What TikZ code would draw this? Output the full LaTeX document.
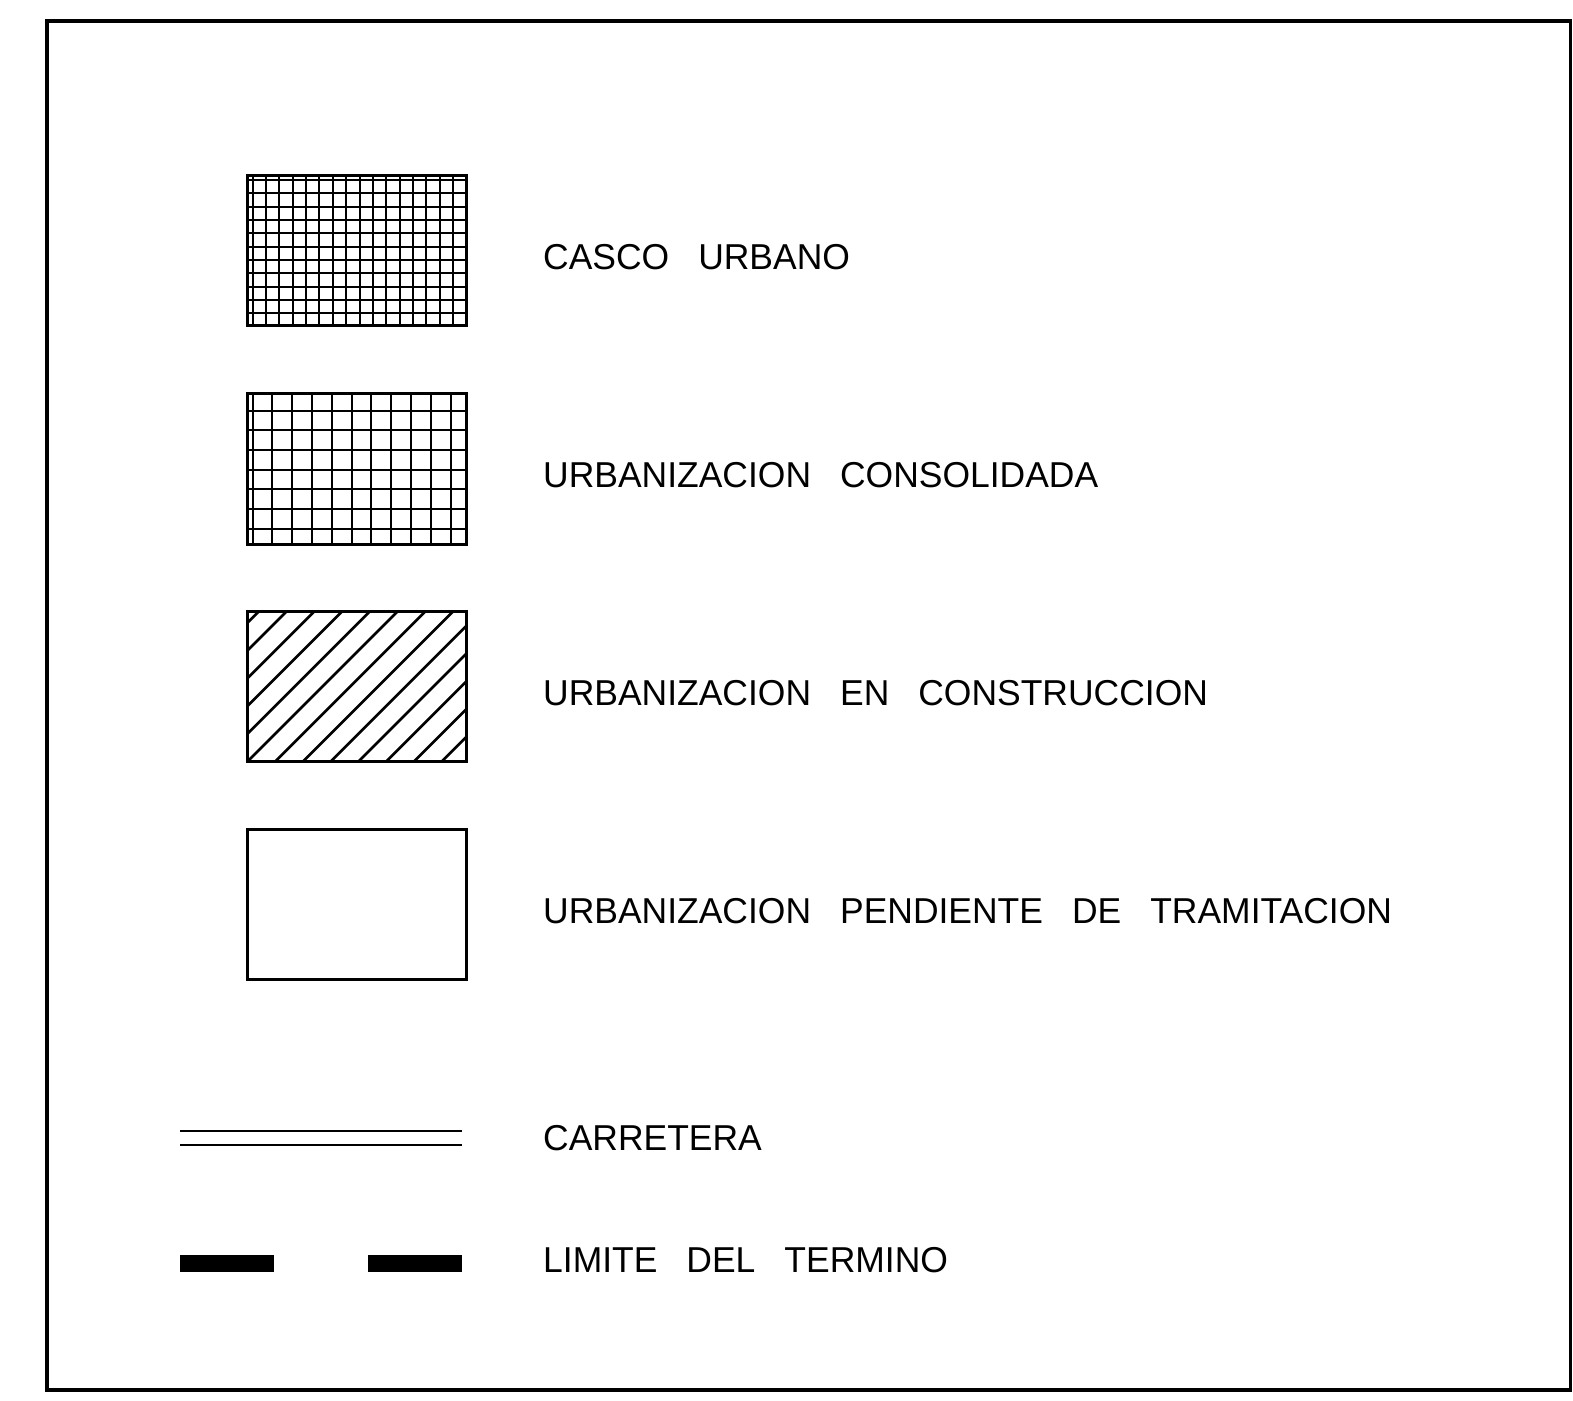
\documentclass[tikz,border=0pt]{standalone}
\usepackage{fontspec}
\setmainfont{Liberation Sans}[FakeStretch=0.985]
\newcommand{\wg}{\hspace{29pt}}
\begin{document}
\begin{tikzpicture}[x=1pt,y=-1pt,
  frame/.style={line width=3.2pt},
  boxline/.style={line width=3pt},
  gridline/.style={line width=2.6pt},
  hatchline/.style={line width=2.6pt},
  roadline/.style={line width=2.2pt},
  limitbar/.style={fill=black},
  lbl/.style={anchor=base west,inner sep=0pt,font=\fontsize{36}{40}\selectfont}]
\useasboundingbox (0,0) rectangle (1573,1400);
\draw[frame] (47,21) rectangle (1570.5,1390);
% box 1: casco urbano (fine grid)
\begin{scope}
  \clip (247,175) rectangle (466,325);
  \foreach \k in {0,...,15} \draw[gridline] ({round(252.6+13.37*\k)},175) -- ({round(252.6+13.37*\k)},325);
  \foreach \k in {0,...,10} \draw[gridline] (247,{round(180+13.33*\k)}) -- (466,{round(180+13.33*\k)});
\end{scope}
\draw[boxline] (247,175) rectangle (466,325);
% box 2: consolidada (coarse grid)
\begin{scope}
  \clip (247,393) rectangle (466,544);
  \foreach \k in {0,...,10} \draw[gridline] ({round(252.5+19.8*\k)},393) -- ({round(252.5+19.8*\k)},544);
  \foreach \k in {0,...,6} \draw[gridline] (247,{round(410.7+19.7*\k)}) -- (466,{round(410.7+19.7*\k)});
\end{scope}
\draw[boxline] (247,393) rectangle (466,544);
% box 3: en construccion (hatch)
\begin{scope}
  \clip (247,611) rectangle (466,761);
  \foreach \k in {-1,...,14} \draw[hatchline] ({898+27.75*\k-600},600) -- ({898+27.75*\k-780},780);
\end{scope}
\draw[boxline] (247,611) rectangle (466,761);
% box 4: pendiente
\draw[boxline] (247,829) rectangle (466,979);
% carretera
\coordinate (r1a) at (180,1131); \coordinate (r1b) at (462,1131);
\coordinate (r2a) at (180,1145); \coordinate (r2b) at (462,1145);
\draw[roadline] (r1a) -- (r1b);
\draw[roadline] (r2a) -- (r2b);
% limite
\fill[limitbar] (180,1255) rectangle (274,1272);
\fill[limitbar] (368,1255) rectangle (462,1272);
% labels
\node[lbl] (t1) at (543,269) {CASCO\wg URBANO};
\node[lbl] (t2) at (543,487) {URBANIZACION\wg CONSOLIDADA};
\node[lbl] (t3) at (543,705) {URBANIZACION\wg EN\wg CONSTRUCCION};
\node[lbl] (t4) at (543,923) {URBANIZACION\wg PENDIENTE\wg DE\wg TRAMITACION};
\node[lbl] (t5) at (543,1150) {CARRETERA};
\node[lbl] (t6) at (543,1272) {LIMITE\wg DEL\wg TERMINO};
\end{tikzpicture}
\end{document}
